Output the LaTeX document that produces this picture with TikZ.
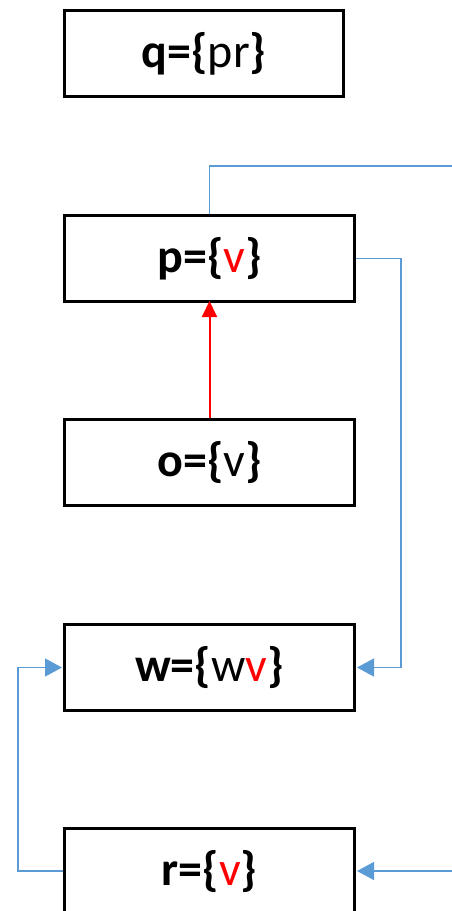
\documentclass[tikz,border=0pt]{standalone}
\usepackage{fontspec}
\setmainfont{Carlito}
\usetikzlibrary{arrows.meta}
\definecolor{lblue}{RGB}{91,155,213}
\definecolor{pred}{RGB}{255,0,0}
\begin{document}
\begin{tikzpicture}[x=1pt,y=-1pt,
  box/.style={draw=black,line width=3pt,fill=white,minimum height=86pt,inner sep=0pt,font=\fontsize{48}{54}\selectfont,anchor=north west},
  bl/.style={draw=lblue,line width=1.4pt},
  bla/.style={bl,-{Triangle[length=17pt,width=18pt]}},
  rda/.style={color=pred,line width=2pt,-{Triangle[length=16pt,width=15pt]}}]
\path[use as bounding box] (0,0) rectangle (452,911);
\clip (0,0) rectangle (452,911);
\node[box,minimum width=279pt] (q) at (63,9) {\textbf{q=\{}pr\textbf{\}}};
\node[box,minimum width=290pt] (p) at (63,214) {\textbf{p=\{}\textcolor{pred}{v}\textbf{\}}};
\node[box,minimum width=290pt] (o) at (63,418) {\textbf{o=\{}v\textbf{\}}};
\node[box,minimum width=290pt] (w) at (63,623) {\textbf{w=\{}w\textcolor{pred}{v}\textbf{\}}};
\node[box,minimum width=290pt] (r) at (63,827) {\textbf{r=\{}\textcolor{pred}{v}\textbf{\}}};
\coordinate (tr) at (452,166);
\coordinate (br) at (452,871);
\coordinate (rt) at (401,0);
\coordinate (lf) at (18,0);
\draw[bl] (p.north) |- (tr);
\draw[bla] (p.east) -| (rt |- w.east) -- ([xshift=1pt]w.east);
\draw[rda] (o.north) -- ([yshift=2pt]p.south);
\draw[bla] (r.west |- br) -| (lf |- w.west) -- ([xshift=-1pt]w.west);
\draw[bla] (br) -- ([xshift=1pt]r.east |- br);
\end{tikzpicture}
\end{document}
